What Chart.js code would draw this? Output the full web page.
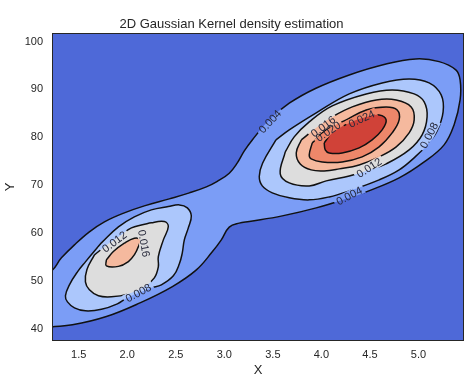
<!DOCTYPE html>
<html><head><meta charset="utf-8">
<style>html,body{margin:0;padding:0;background:#fff}</style>
<script src="https://cdn.jsdelivr.net/npm/chart.js@4.4.0/dist/chart.umd.min.js"></script>
</head><body>
<canvas id="c" width="474" height="379"></canvas>
<script>
// ---- data ----
const xTicks = [1.5, 2.0, 2.5, 3.0, 3.5, 4.0, 4.5, 5.0];
const yTicks = [40, 50, 60, 70, 80, 90, 100];
const levels = [0.004, 0.008, 0.012, 0.016, 0.020, 0.024];

// contour polygons, [x, y] in data units
const c004 = [[0.9,40.2],[0.9,51.6],[1.198,51.85],[1.322,54.78],[1.456,57.50],[1.610,60.22],[1.765,62.31],[1.970,64.19],[2.176,65.65],[2.433,67.12],[2.640,68.37],[2.815,69.63],[2.928,70.78],[3.051,72.49],[3.134,74.64],[3.206,77.15],[3.288,79.45],[3.463,83.63],[3.669,87.12],[3.944,90.26],[4.287,93.04],[4.626,95.13],[4.973,96.39],[5.213,95.82],[5.385,94.09],[5.429,92.0],[5.429,87.81],[5.367,82.59],[5.264,78.41],[5.059,74.85],[4.801,71.51],[4.462,68.58],[4.287,67.33],[3.947,65.23],[3.597,63.56],[3.257,62.37],[3.154,62.04],[3.051,61.20],[2.969,58.54],[2.876,56.04],[2.712,52.27],[2.465,48.78],[2.125,45.31],[1.785,42.51],[1.435,40.77],[1.198,40.36]];
const c008a = [[1.734,57.92],[1.909,61.26],[2.073,63.35],[2.248,64.82],[2.423,65.51],[2.537,65.86],[2.619,65.23],[2.660,63.56],[2.629,61.05],[2.588,58.54],[2.567,55.83],[2.537,53.53],[2.475,51.02],[2.351,49.14],[2.248,48.51],[2.125,47.46],[2.001,46.42],[1.898,45.16],[1.734,44.01],[1.569,43.70],[1.456,44.33],[1.384,45.58],[1.363,46.84],[1.404,49.14],[1.487,51.85],[1.569,53.94]];
const c012a = [[1.662,55.41],[1.806,57.71],[1.919,59.28],[2.043,61.05],[2.248,62.10],[2.382,62.37],[2.423,61.33],[2.372,58.54],[2.320,55.05],[2.320,52.90],[2.279,50.60],[2.176,48.72],[2.012,47.25],[1.837,46.63],[1.703,46.84],[1.610,48.09],[1.569,49.76],[1.584,52.3]];
const c016a = [[1.785,54.36],[1.857,56.10],[1.970,57.85],[2.073,58.90],[2.130,58.54],[2.115,57.14],[2.073,55.41],[2.012,54.01],[1.909,53.0],[1.785,53.11]];
const c008b = [[3.532,79.45],[3.669,81.54],[3.947,85.10],[4.287,89.07],[4.626,91.37],[4.904,92.20],[5.110,91.37],[5.234,88.86],[5.254,85.31],[5.192,81.33],[5.089,78.41],[4.966,75.90],[4.801,73.18],[4.595,71.09],[4.287,68.79],[4.081,67.53],[3.875,66.91],[3.669,67.33],[3.494,68.37],[3.391,69.83],[3.360,71.78],[3.394,74.58]];
const c012b = [[3.628,76.94],[3.720,80.08],[3.875,83.21],[4.112,86.56],[4.462,89.07],[4.729,89.91],[4.956,89.07],[5.059,87.40],[5.089,84.26],[5.038,80.50],[4.904,77.36],[4.667,74.43],[4.492,73.18],[4.287,71.92],[4.050,70.88],[3.875,69.83],[3.669,70.46],[3.576,72.34]];
const c016b = [[3.793,79.45],[3.958,82.17],[4.112,84.26],[4.318,86.35],[4.565,87.81],[4.771,87.81],[4.925,86.35],[4.956,83.63],[4.904,80.92],[4.771,77.99],[4.595,75.90],[4.389,74.22],[4.184,73.39],[4.029,72.97],[3.895,73.18],[3.782,74.43],[3.741,76.73]];
const c020 = [[3.906,78.82],[4.050,81.54],[4.256,83.63],[4.462,85.72],[4.667,86.35],[4.781,85.72],[4.801,83.63],[4.729,80.92],[4.595,77.99],[4.420,75.90],[4.214,74.85],[4.008,74.85],[3.895,75.48],[3.875,76.32]];
const c024 = [[4.029,78.82],[4.112,80.92],[4.287,83.0],[4.462,84.26],[4.595,84.68],[4.667,83.63],[4.626,81.54],[4.523,79.45],[4.389,77.78],[4.214,76.73],[4.081,76.73],[4.040,77.36]];

// contour labels
const labelText  = ['0.012','0.016','0.008','0.004','0.016','0.020','0.024','0.008','0.012','0.004'];
const labelX     = [1.868, 2.171, 2.115, 3.471, 4.019, 4.070, 4.415, 5.110, 4.492, 4.287];
const labelY     = [58.13, 57.81, 47.46, 83.28, 82.23, 81.19, 83.84, 80.39, 73.60, 67.74];
const labelAngle = [-37, 80, -28, -47, -37, -34, -25, -63, -33, -28];

// ---- styles ----
const FONT = "'Liberation Sans', Arial, Helvetica, sans-serif";
const TXT = '#262626';
const bandColors = ['rgb(78,105,216)','rgb(123,157,246)','rgb(172,199,252)','rgb(221,221,221)','rgb(245,185,158)','rgb(238,135,106)','rgb(208,66,56)'];

// innermost first (Chart.js draws dataset 0 on top)
const contours = [[c024,5],[c020,4],[c016a,3],[c016b,3],[c012a,2],[c012b,2],[c008a,1],[c008b,1],[c004,0]];
const datasets = contours.map(([poly, li]) => {
  const pts = poly.map(([x, y]) => ({x, y}));
  pts.push({x: poly[0][0], y: poly[0][1]});
  return {
    label: String(levels[li]),
    data: pts,
    fill: 'shape',
    backgroundColor: bandColors[li + 1],
    borderColor: '#111',
    borderWidth: 1.5,
    tension: 0.4,
    pointRadius: 0,
    pointHoverRadius: 0
  };
});

function labelRects(chart) {
  const xs = chart.scales.x, ys = chart.scales.y, ctx = chart.ctx;
  ctx.save();
  ctx.font = '11px ' + FONT;
  const r = labelText.map((t, i) => ({
    t, px: xs.getPixelForValue(labelX[i]), py: ys.getPixelForValue(labelY[i]),
    a: labelAngle[i] * Math.PI / 180, w: ctx.measureText(t).width
  }));
  ctx.restore();
  return r;
}

const bgPlugin = {
  id: 'bg',
  beforeDraw(chart) {
    const {ctx, chartArea: a} = chart;
    ctx.save();
    ctx.fillStyle = bandColors[0];
    ctx.fillRect(a.left, a.top, a.right - a.left, a.bottom - a.top);
    ctx.restore();
  }
};
const gapPlugin = {
  id: 'gaps',
  beforeDatasetDraw(chart) {
    const {ctx, chartArea: a} = chart;
    ctx.save();
    ctx.beginPath();
    ctx.rect(a.left - 5, a.top - 5, a.right - a.left + 10, a.bottom - a.top + 10);
    for (const l of labelRects(chart)) {
      const hw = l.w / 2 + 2.5, hh = 5;
      const c = Math.cos(l.a), s = Math.sin(l.a);
      const corners = [[-hw,-hh],[hw,-hh],[hw,hh],[-hw,hh]].map(([u, v]) => [l.px + u * c - v * s, l.py + u * s + v * c]);
      ctx.moveTo(corners[0][0], corners[0][1]);
      for (let k = 1; k < 4; k++) ctx.lineTo(corners[k][0], corners[k][1]);
      ctx.closePath();
    }
    ctx.clip('evenodd');
  },
  afterDatasetDraw(chart) { chart.ctx.restore(); },
  afterDatasetsDraw(chart) {
    const {ctx, chartArea: a} = chart;
    ctx.save();
    ctx.font = '11px ' + FONT;
    ctx.fillStyle = '#26283a';
    ctx.textAlign = 'center';
    ctx.textBaseline = 'middle';
    for (const l of labelRects(chart)) {
      ctx.save();
      ctx.translate(l.px, l.py);
      ctx.rotate(l.a);
      ctx.fillText(l.t, 0, 0.5);
      ctx.restore();
    }
    ctx.strokeStyle = TXT;
    ctx.lineWidth = 1;
    ctx.strokeRect(a.left - 0.5, a.top - 0.5, a.right - a.left + 1, a.bottom - a.top + 1);
    ctx.restore();
  }
};

new Chart(document.getElementById('c'), {
  type: 'line',
  data: {datasets},
  plugins: [bgPlugin, gapPlugin],
  options: {
    responsive: false,
    animation: false,
    devicePixelRatio: 1,
    events: [],
    layout: {padding: {left: 0, right: 11, top: 0, bottom: 0}},
    elements: {line: {capBezierPoints: false}},
    plugins: {
      legend: {display: false},
      tooltip: {enabled: false},
      filler: {drawTime: 'beforeDatasetsDraw', propagate: false},
      title: {display: true, text: '2D Gaussian Kernel density estimation', color: TXT,
        font: {family: FONT, size: 13, weight: 'normal'}, padding: {top: 17, bottom: 1.4}}
    },
    scales: {
      x: {
        type: 'linear', min: 1.235, max: 5.459,
        afterBuildTicks: s => { s.ticks = xTicks.map(v => ({value: v})); },
        afterFit: s => { s.height = 39; },
        grid: {display: false, drawTicks: false},
        border: {display: false},
        ticks: {color: TXT, font: {family: FONT, size: 11}, padding: 8, maxRotation: 0, autoSkip: false,
          callback: v => Number(v).toFixed(1)},
        title: {display: true, text: 'X', color: TXT, font: {family: FONT, size: 13}, padding: {top: 0, bottom: 1}}
      },
      y: {
        type: 'linear', min: 37.6, max: 101.6,
        afterBuildTicks: s => { s.ticks = yTicks.map(v => ({value: v})); },
        afterFit: s => { s.width = 53; },
        grid: {display: false, drawTicks: false},
        border: {display: false},
        ticks: {color: TXT, font: {family: FONT, size: 11}, padding: 10, autoSkip: false,
          callback: v => String(v)},
        title: {display: true, text: 'Y', color: TXT, font: {family: FONT, size: 13}, padding: {top: 3, bottom: 0}}
      }
    }
  }
});
</script>
</body></html>
